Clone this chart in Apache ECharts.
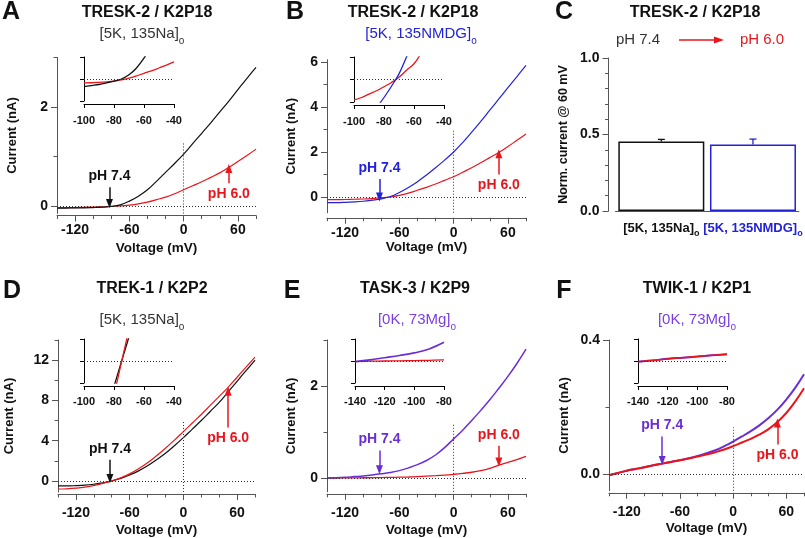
<!DOCTYPE html>
<html lang="en">
<head>
<meta charset="UTF-8">
<title>K2P channels - pH 6.0 vs pH 7.4</title>
<style>
  html, body { margin: 0; padding: 0; background: #fff; }
  #main { width: 805px; height: 538px; }
</style>
<script src="https://cdn.jsdelivr.net/npm/echarts@6.0.0/dist/echarts.min.js"></script>
</head>
<body>
<div id="main"></div>
<script>
// ---- data ----
// voltage steps of the main I-V traces, mV
var volt = [-140,-130,-120,-110,-100,-90,-80,-70,-60,-50,-40,-30,-20,-10,0,10,20,30,40,50,60,70,80];
var xMajor = [-120, -60, 0, 60];
var xMinor = [-140, -100, -80, -40, -20, 20, 40, 80];

// A  TRESK-2, [5K, 135Na]o  (nA)
var aPh74 = [-0.04,-0.04,-0.035,-0.035,-0.03,-0.022,-0.008,0.025,0.1,0.2,0.33,0.5,0.68,0.86,1.05,1.26,1.47,1.68,1.9,2.12,2.35,2.58,2.8];
var aPh60 = [-0.03,-0.03,-0.03,-0.025,-0.02,-0.015,-0.008,0.003,0.02,0.045,0.08,0.13,0.18,0.25,0.33,0.41,0.49,0.58,0.67,0.78,0.9,1.02,1.15];
// B  TRESK-2, [5K, 135NMDG]o
var bPh74 = [-0.25,-0.25,-0.24,-0.22,-0.19,-0.14,-0.08,0.02,0.2,0.42,0.68,0.98,1.3,1.64,2.0,2.42,2.88,3.36,3.86,4.36,4.86,5.35,5.85];
var bPh60 = [-0.12,-0.12,-0.11,-0.1,-0.09,-0.07,-0.04,0.0,0.07,0.17,0.3,0.43,0.58,0.74,0.9,1.1,1.3,1.52,1.75,1.98,2.24,2.52,2.8];
// D  TREK-1
var dPh74 = [-0.5,-0.5,-0.47,-0.42,-0.33,-0.2,0.0,0.25,0.6,1.0,1.5,2.1,2.75,3.5,4.3,5.15,6.0,6.9,7.8,8.85,9.9,10.95,12.0];
var dPh60 = [-0.8,-0.78,-0.72,-0.62,-0.45,-0.25,0.0,0.3,0.7,1.2,1.8,2.5,3.25,4.05,4.9,5.75,6.6,7.5,8.4,9.3,10.3,11.3,12.3];
// E  TASK-3
var ePh74 = [0.0,0.005,0.015,0.03,0.045,0.065,0.09,0.12,0.16,0.22,0.29,0.38,0.5,0.66,0.85,1.04,1.25,1.47,1.7,1.95,2.21,2.49,2.8];
var ePh60 = [0,0,0.002,0.003,0.005,0.007,0.01,0.013,0.017,0.022,0.03,0.04,0.05,0.063,0.08,0.1,0.125,0.16,0.21,0.28,0.34,0.4,0.47];
// F  TWIK-1
var fPh74 = [-0.004,0.003,0.01,0.015,0.02,0.026,0.031,0.036,0.041,0.047,0.054,0.062,0.071,0.083,0.097,0.112,0.128,0.146,0.167,0.192,0.222,0.257,0.298];
var fPh60 = [-0.004,0.003,0.01,0.015,0.02,0.026,0.031,0.036,0.041,0.046,0.052,0.058,0.065,0.073,0.083,0.094,0.105,0.118,0.134,0.155,0.182,0.216,0.256];

// insets (zoom around reversal)
var insAVolt = [-100,-95,-90,-85,-80,-75,-70,-65,-60,-55,-50,-45,-40];
var insAPh74 = [-0.035,-0.03,-0.025,-0.018,-0.01,0.0,0.019,0.05,0.095,0.15,0.22,0.3,0.4];
var insAPh60 = [-0.018,-0.017,-0.015,-0.013,-0.01,-0.004,0.004,0.014,0.026,0.037,0.05,0.063,0.078];
var insBVolt74 = [-85,-80,-75,-70,-65,-60];
var insBPh74 = [-0.125,-0.08,-0.03,0.025,0.1,0.18];
var insBVolt60 = [-100,-95,-90,-85,-80,-75,-70,-65,-60,-55];
var insBPh60 = [-0.091,-0.08,-0.065,-0.05,-0.032,-0.013,0.01,0.041,0.07,0.12];
var insDVolt = [-82,-80,-78,-76,-74,-72,-70,-68];
var insDPh74 = [-0.32,-0.23,-0.14,-0.05,0.04,0.13,0.22,0.31];
var insDPh60 = [-0.43,-0.31,-0.19,-0.07,0.05,0.17,0.29,0.41];
var insEVolt = [-140,-130,-120,-110,-100,-90,-80];
var insEPh74 = [-0.003,0.005,0.015,0.025,0.037,0.055,0.085];
var insEPh60 = [-0.003,-0.001,0.0,0.001,0.002,0.003,0.005];
var insFPh74 = [-0.003,0.003,0.01,0.015,0.02,0.026,0.031];
var insFPh60 = [-0.003,0.002,0.009,0.015,0.021,0.026,0.031];

// C  normalised current at 60 mV
var cCats = ['[5K, 135Na]', '[5K, 135NMDG]'];
var cMean = [0.455, 0.435];
var cSem = [0.013, 0.035];

// ---- style ----
var FONT = 'Liberation Sans';
var RED = '#e8161c', BLUE = '#2222d8', PURPLE = '#6a2ed8', BLACK = '#111';
var AXIS = '#555';

var option = {
  animation: false,
  textStyle: { fontFamily: FONT },
  grid: [], xAxis: [], yAxis: [], series: [], graphic: []
};

function pairs(xs, ys) {
  return xs.map(function (x, i) { return [x, ys[i]]; });
}

function boldText(size) {
  return { fontFamily: FONT, fontWeight: 'bold', fontSize: size, color: BLACK };
}

function arrow(x, y1, y2, text, color) {
  return [
    { coord: [x, y1], symbol: 'none',
      lineStyle: { type: 'solid', color: color, width: 1.5 },
      label: { show: true, position: 'start', formatter: text, color: color,
               fontFamily: FONT, fontWeight: 'bold', fontSize: 14, distance: 4 } },
    { coord: [x, y2], symbol: 'triangle', symbolSize: [7, 9] }
  ];
}

function mainPanel(c) {
  var gi = option.grid.length;
  option.grid.push({ left: c.box[0], top: c.box[1], width: c.box[2], height: c.box[3] });
  var xi = option.xAxis.length, yi = option.yAxis.length;
  option.xAxis.push({
    gridIndex: gi, type: 'value', position: 'bottom', min: -140, max: 80, offset: c.xOffset,
    name: 'Voltage (mV)', nameLocation: 'middle', nameGap: c.xGap,
    nameTextStyle: boldText(13.5),
    axisLine: { onZero: false, lineStyle: { color: AXIS, width: 1 } },
    axisTick: { customValues: xMajor, length: 6, lineStyle: { color: AXIS } },
    axisLabel: Object.assign({ customValues: xMajor, margin: c.xMargin }, boldText(14)),
    splitLine: { show: false }
  }, {
    gridIndex: gi, type: 'value', position: 'bottom', min: -140, max: 80, offset: c.xOffset,
    axisLine: { show: false, onZero: false },
    axisTick: { show: true, customValues: xMinor, length: 3.5, lineStyle: { color: AXIS } },
    axisLabel: { show: false }, splitLine: { show: false }
  });
  option.yAxis.push({
    gridIndex: gi, type: 'value', position: 'left', min: c.yMin, max: c.yMax,
    name: 'Current (nA)', nameLocation: 'middle', nameGap: c.yGap,
    nameTextStyle: boldText(13),
    axisLine: { show: true, onZero: false, lineStyle: { color: AXIS, width: 1 } },
    axisTick: { show: true, customValues: c.yLabels, length: 6, lineStyle: { color: AXIS } },
    axisLabel: Object.assign({ customValues: c.yLabels, margin: 9,
      formatter: c.yFmt || function (v) { return String(v); } }, boldText(14)),
    splitLine: { show: false }
  }, {
    gridIndex: gi, type: 'value', position: 'left', min: c.yMin, max: c.yMax,
    axisLine: { show: false, onZero: false },
    axisTick: { show: true, customValues: c.yMinor, length: 3.5, lineStyle: { color: AXIS } },
    axisLabel: { show: false }, splitLine: { show: false }
  });
  c.curves.forEach(function (cv, k) {
    var s = {
      type: 'line', xAxisIndex: xi, yAxisIndex: yi, data: pairs(volt, cv.y),
      showSymbol: false, smooth: 0.4, silent: true, z: cv.z || 2,
      lineStyle: { color: cv.color, width: cv.width }, itemStyle: { color: cv.color }
    };
    if (k === 0) {
      s.markLine = {
        silent: true, symbol: 'none', animation: false,
        label: { show: false },
        lineStyle: { type: [1, 2], color: '#333', width: 1 },
        emphasis: { disabled: true },
        data: [
          { yAxis: 0 },
          [{ coord: [0, c.yMin] }, { coord: [0, c.vTop] }]
        ].concat(c.arrows)
      };
    }
    option.series.push(s);
  });
}

function insetPanel(c) {
  var gi = option.grid.length;
  option.grid.push({ left: c.box[0], top: c.box[1], width: c.box[2], height: c.box[3] });
  var xi = option.xAxis.length, yi = option.yAxis.length;
  option.xAxis.push({
    gridIndex: gi, type: 'value', position: 'bottom', min: c.xMin, max: c.xMax, interval: 20, offset: 3,
    axisLine: { onZero: false, lineStyle: { color: '#000', width: 1 } },
    axisTick: { length: 4, lineStyle: { color: '#000' } },
    axisLabel: Object.assign({ margin: c.margin }, boldText(11)),
    splitLine: { show: false }
  });
  option.yAxis.push({
    gridIndex: gi, type: 'value', position: 'left', min: -c.r, max: c.r, interval: c.r,
    axisLine: { show: true, onZero: false, lineStyle: { color: '#000', width: 1 } },
    axisTick: { show: true, length: 4, lineStyle: { color: '#000' } },
    axisLabel: { show: false }, splitLine: { show: false }
  });
  c.curves.forEach(function (cv, k) {
    var s = {
      type: 'line', xAxisIndex: xi, yAxisIndex: yi, data: pairs(cv.x, cv.y),
      showSymbol: false, smooth: 0.4, silent: true, clip: true,
      z: cv.z || 2,
      lineStyle: { color: cv.color, width: cv.width }, itemStyle: { color: cv.color }
    };
    if (k === 0) {
      s.markLine = {
        silent: true, symbol: 'none', animation: false, label: { show: false },
        lineStyle: { type: [1, 2], color: '#333', width: 1 },
        data: [{ yAxis: 0 }]
      };
    }
    option.series.push(s);
  });
}

// ---- panels ----
mainPanel({ // A
  box: [57, 57.5, 199, 156], yMin: -0.15, yMax: 3, yLabels: [0, 2], yMinor: [1, 3], yGap: 38,
  xOffset: 2, xMargin: 8, xGap: 26, vTop: 1.3,
  curves: [{ y: aPh60, color: RED, width: 1.2 }, { y: aPh74, color: BLACK, width: 1.2, z: 3 }],
  arrows: [arrow(-82, 0.38, 0.05, 'pH 7.4', BLACK), arrow(50, 0.46, 0.76, 'pH 6.0', RED)]
});
insetPanel({
  box: [84, 57, 90, 44], xMin: -100, xMax: -40, r: 0.1, margin: 11,
  curves: [{ x: insAVolt, y: insAPh60, color: RED, width: 1.3 },
           { x: insAVolt, y: insAPh74, color: BLACK, width: 1.3 }]
});

mainPanel({ // B
  box: [327, 59.75, 199, 153], yMin: -0.7, yMax: 6.1, yLabels: [0, 2, 4, 6], yMinor: [1, 3, 5], yGap: 29,
  xOffset: 5, xMargin: 8, xGap: 23, vTop: 3.0,
  curves: [{ y: bPh60, color: RED, width: 1.2 }, { y: bPh74, color: BLUE, width: 1.2, z: 3 }],
  arrows: [arrow(-82, 0.8, 0.0, 'pH 7.4', BLUE), arrow(50, 1.0, 1.92, 'pH 6.0', RED)]
});
insetPanel({
  box: [354, 57, 90, 45], xMin: -100, xMax: -40, r: 0.1, margin: 11,
  curves: [{ x: insBVolt60, y: insBPh60, color: RED, width: 1.3 },
           { x: insBVolt74, y: insBPh74, color: BLUE, width: 1.3 }]
});

mainPanel({ // D
  box: [58, 340, 197, 153.5], yMin: -1.1, yMax: 14, yLabels: [0, 4, 8, 12], yMinor: [2, 6, 10, 14], yGap: 42,
  xOffset: 2, xMargin: 12, xGap: 29, vTop: 5.9,
  curves: [{ y: dPh74, color: BLACK, width: 1.2 }, { y: dPh60, color: RED, width: 1.2, z: 3 }],
  arrows: [arrow(-82, 2.1, 0.25, 'pH 7.4', BLACK), arrow(50, 5.3, 8.9, 'pH 6.0', RED)]
});
insetPanel({
  box: [84, 339, 90, 44], xMin: -100, xMax: -40, r: 0.2, margin: 10,
  curves: [{ x: insDVolt, y: insDPh74, color: BLACK, width: 1.3 },
           { x: insDVolt, y: insDPh60, color: RED, width: 1.3 }]
});

mainPanel({ // E
  box: [327, 340, 199, 151.8], yMin: -0.3, yMax: 3, yLabels: [0, 2], yMinor: [1, 3], yGap: 29,
  xOffset: 2, xMargin: 12, xGap: 29, vTop: 1.2,
  curves: [{ y: ePh60, color: RED, width: 1.3 }, { y: ePh74, color: PURPLE, width: 1.5, z: 3 }],
  arrows: [arrow(-82, 0.6, 0.18, 'pH 7.4', PURPLE), arrow(50, 0.7, 0.35, 'pH 6.0', RED)]
});
insetPanel({
  box: [355, 339, 89, 44], xMin: -140, xMax: -80, r: 0.1, margin: 10,
  curves: [{ x: insEVolt, y: insEPh60, color: RED, width: 1.3 },
           { x: insEVolt, y: insEPh74, color: PURPLE, width: 1.6 }]
});

mainPanel({ // F
  box: [609, 340, 195, 150.75], yMin: -0.05, yMax: 0.4, yLabels: [0, 0.4], yMinor: [0.2], yGap: 38,
  yFmt: function (v) { return v.toFixed(1); },
  xOffset: 2, xMargin: 12, xGap: 29, vTop: 0.14,
  curves: [{ y: fPh74, color: PURPLE, width: 2 }, { y: fPh60, color: RED, width: 2, z: 3 }],
  arrows: [arrow(-80, 0.112, 0.04, 'pH 7.4', PURPLE), arrow(50, 0.088, 0.152, 'pH 6.0', RED)]
});
insetPanel({
  box: [638, 339, 89, 44], xMin: -140, xMax: -80, r: 0.1, margin: 10,
  curves: [{ x: insEVolt, y: insFPh74, color: PURPLE, width: 2 },
           { x: insEVolt, y: insFPh60, color: RED, width: 1.5 }]
});

// C bar chart
(function () {
  var gi = option.grid.length;
  option.grid.push({ left: 615.5, top: 58, width: 186, height: 153 });
  var xi = option.xAxis.length, yi = option.yAxis.length;
  var subStyle = function (col) {
    return { color: col, fontFamily: FONT, fontWeight: 'bold', fontSize: 9, lineHeight: 9, padding: [11, 0, 0, 0] };
  };
  var mainStyle = function (col) {
    return { color: col, fontFamily: FONT, fontWeight: 'bold', fontSize: 13, lineHeight: 15 };
  };
  option.xAxis.push({
    gridIndex: gi, type: 'category', position: 'bottom', data: cCats,
    axisLine: { onZero: false, lineStyle: { color: AXIS, width: 1 } },
    axisTick: { show: false },
    axisLabel: {
      margin: 10, interval: 0, hideOverlap: false,
      formatter: function (v, i) { return i === 0 ? '{k|' + v + '}{ks|o}' : '{b|' + v + '}{bs|o}'; },
      rich: { k: mainStyle(BLACK), ks: subStyle(BLACK), b: mainStyle(BLUE), bs: subStyle(BLUE) }
    }
  });
  option.yAxis.push({
    gridIndex: gi, type: 'value', position: 'left', min: 0, max: 1, interval: 0.5, offset: 7,
    name: 'Norm. current @ 60 mV', nameLocation: 'middle', nameGap: 38,
    nameTextStyle: boldText(12.5),
    axisLine: { show: true, onZero: false, lineStyle: { color: AXIS, width: 1 } },
    axisTick: { show: true, length: 6, lineStyle: { color: AXIS } },
    minorTick: { show: true, splitNumber: 5, length: 3.5, lineStyle: { color: AXIS } },
    axisLabel: Object.assign({ margin: 9, formatter: function (v) { return v.toFixed(1); } }, boldText(14)),
    splitLine: { show: false }
  });
  var barCols = [BLACK, BLUE];
  option.series.push({
    type: 'bar', xAxisIndex: xi, yAxisIndex: yi, barWidth: 86, silent: true,
    data: cMean.map(function (m, i) {
      return { value: m, itemStyle: { color: '#fff', borderColor: barCols[i], borderWidth: 1.5 } };
    })
  });
  option.series.push({
    type: 'custom', xAxisIndex: xi, yAxisIndex: yi, silent: true, z: 5,
    data: cMean.map(function (m, i) { return [i, m, m + cSem[i]]; }),
    renderItem: function (params, api) {
      var lo = api.coord([api.value(0), api.value(1)]);
      var hi = api.coord([api.value(0), api.value(2)]);
      var col = barCols[params.dataIndex];
      var st = { stroke: col, lineWidth: 1.3 };
      return { type: 'group', children: [
        { type: 'line', shape: { x1: lo[0], y1: lo[1], x2: hi[0], y2: hi[1] }, style: st },
        { type: 'line', shape: { x1: hi[0] - 3.5, y1: hi[1], x2: hi[0] + 3.5, y2: hi[1] }, style: st }
      ] };
    }
  });
})();

// ---- texts ----
function addText(x, y, text, size, weight, color, rich) {
  option.graphic.push({
    type: 'text', x: x, y: y, silent: true,
    style: { text: text, fontFamily: FONT, fontSize: size, fontWeight: weight, fill: color,
             align: 'center', verticalAlign: 'middle', textAlign: 'center', textVerticalAlign: 'middle',
             rich: rich }
  });
}
function subRich(color) {
  return { s: { fontFamily: FONT, fontSize: 10, fill: color, lineHeight: 10, padding: [14, 0, 0, 0] } };
}

addText(11, 12, 'A', 25, 'bold', BLACK);
addText(295, 12, 'B', 25, 'bold', BLACK);
addText(564, 12, 'C', 25, 'bold', BLACK);
addText(12, 291, 'D', 25, 'bold', BLACK);
addText(292, 291, 'E', 25, 'bold', BLACK);
addText(564, 291, 'F', 25, 'bold', BLACK);

addText(147, 13, 'TRESK-2 / K2P18', 16, 'bold', BLACK);
addText(413, 13, 'TRESK-2 / K2P18', 16, 'bold', BLACK);
addText(695, 13, 'TRESK-2 / K2P18', 16, 'bold', BLACK);
addText(152, 289, 'TREK-1 / K2P2', 16, 'bold', BLACK);
addText(415, 289, 'TASK-3 / K2P9', 16, 'bold', BLACK);
addText(697, 289, 'TWIK-1 / K2P1', 16, 'bold', BLACK);

addText(142, 34, '[5K, 135Na]{s|o}', 15, 'normal', '#333', subRich('#333'));
addText(421, 34, '[5K, 135NMDG]{s|o}', 15, 'normal', BLUE, subRich(BLUE));
addText(142, 320, '[5K, 135Na]{s|o}', 15, 'normal', '#333', subRich('#333'));
addText(417, 320, '[0K, 73Mg]{s|o}', 15, 'normal', '#7b3fe0', subRich('#7b3fe0'));
addText(697, 320, '[0K, 73Mg]{s|o}', 15, 'normal', '#7b3fe0', subRich('#7b3fe0'));

addText(638, 40, 'pH 7.4', 15, 'normal', '#333');
addText(762, 40, 'pH 6.0', 15, 'normal', RED);
option.graphic.push({
  type: 'line', silent: true, shape: { x1: 679, y1: 40, x2: 716, y2: 40 },
  style: { stroke: RED, lineWidth: 1.5 }
}, {
  type: 'polygon', silent: true, shape: { points: [[714, 36.5], [724, 40], [714, 43.5]] },
  style: { fill: RED }
});

var chart = echarts.init(document.getElementById('main'));
chart.setOption(option);
</script>
</body>
</html>
